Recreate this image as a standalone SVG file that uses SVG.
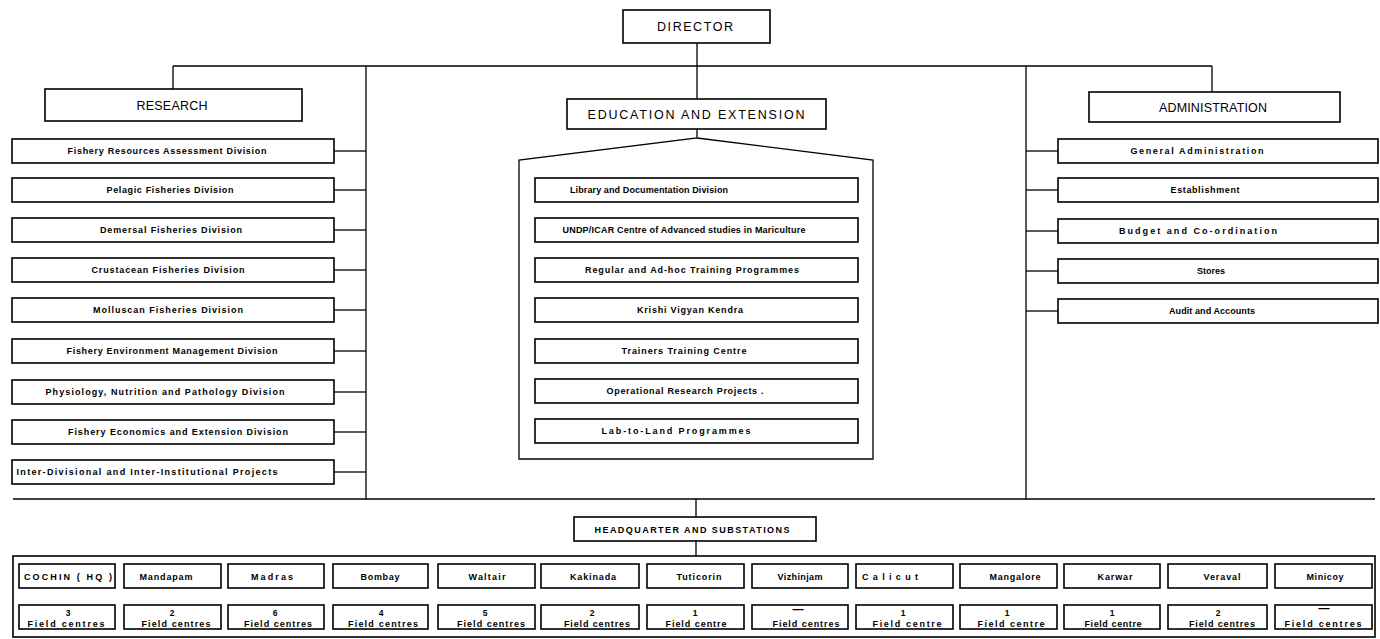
<svg xmlns="http://www.w3.org/2000/svg" width="1380" height="639" viewBox="0 0 1380 639">
<style>
.bg{fill:#fff}
.box{fill:#fff;stroke:#000;stroke-width:1.6}
.ln{stroke:#000;stroke-width:1.3;fill:none}
.h{font-family:"Liberation Sans",Arial,sans-serif;font-size:12.5px;text-anchor:middle;fill:#000}
.s{font-family:"Liberation Sans",Arial,sans-serif;font-weight:bold;font-size:9px;text-anchor:middle;fill:#000}
.st{font-family:"Liberation Sans",Arial,sans-serif;font-weight:bold;font-size:9px;text-anchor:middle;fill:#000}
.n{font-family:"Liberation Sans",Arial,sans-serif;font-weight:bold;font-size:8.5px;text-anchor:middle;fill:#000}
.d{font-family:"Liberation Sans",Arial,sans-serif;font-weight:bold;font-size:11px;text-anchor:middle;fill:#000}
</style>
<rect class="bg" x="0" y="0" width="1380" height="639"/>

<g id="connectors">
<line class="ln" x1="697" y1="43" x2="697" y2="99"/>
<line class="ln" x1="173" y1="66" x2="1212" y2="66"/>
<line class="ln" x1="173" y1="66" x2="173" y2="89"/>
<line class="ln" x1="1212" y1="66" x2="1212" y2="92"/>
<line class="ln" x1="366" y1="66" x2="366" y2="499"/>
<line class="ln" x1="1026" y1="66" x2="1026" y2="499"/>
<line class="ln" x1="13" y1="499" x2="1375" y2="499"/>
<line class="ln" x1="696" y1="499" x2="696" y2="517"/>
<line class="ln" x1="696" y1="541" x2="696" y2="556"/>
<polyline class="ln" points="697,129 697,138 519,160 519,459 873,459 873,160 697,138"/>
<line class="ln" x1="334" y1="151" x2="366" y2="151"/>
<line class="ln" x1="334" y1="190" x2="366" y2="190"/>
<line class="ln" x1="334" y1="230" x2="366" y2="230"/>
<line class="ln" x1="334" y1="270" x2="366" y2="270"/>
<line class="ln" x1="334" y1="310" x2="366" y2="310"/>
<line class="ln" x1="334" y1="351" x2="366" y2="351"/>
<line class="ln" x1="334" y1="392" x2="366" y2="392"/>
<line class="ln" x1="334" y1="432" x2="366" y2="432"/>
<line class="ln" x1="334" y1="472" x2="366" y2="472"/>
<line class="ln" x1="1026" y1="151" x2="1058" y2="151"/>
<line class="ln" x1="1026" y1="190" x2="1058" y2="190"/>
<line class="ln" x1="1026" y1="231" x2="1058" y2="231"/>
<line class="ln" x1="1026" y1="271" x2="1058" y2="271"/>
<line class="ln" x1="1026" y1="311" x2="1058" y2="311"/>
<line class="ln" x1="67" y1="588" x2="67" y2="605"/>
<line class="ln" x1="172" y1="588" x2="172" y2="605"/>
<line class="ln" x1="276" y1="588" x2="276" y2="605"/>
<line class="ln" x1="381" y1="588" x2="381" y2="605"/>
<line class="ln" x1="486" y1="588" x2="486" y2="605"/>
<line class="ln" x1="590" y1="588" x2="590" y2="605"/>
<line class="ln" x1="695" y1="588" x2="695" y2="605"/>
<line class="ln" x1="800" y1="588" x2="800" y2="605"/>
<line class="ln" x1="904" y1="588" x2="904" y2="605"/>
<line class="ln" x1="1008" y1="588" x2="1008" y2="605"/>
<line class="ln" x1="1112" y1="588" x2="1112" y2="605"/>
<line class="ln" x1="1217" y1="588" x2="1217" y2="605"/>
<line class="ln" x1="1323" y1="588" x2="1323" y2="605"/>
</g>

<g id="director"><rect class="box" x="623" y="10" width="147" height="33"/><text class="h" x="695" y="31" textLength="76" lengthAdjust="spacing">DIRECTOR</text></g>

<g id="research"><rect class="box" x="45" y="89" width="257" height="32"/><text class="h" x="172" y="109.5" textLength="71" lengthAdjust="spacing">RESEARCH</text></g>
<g id="education"><rect class="box" x="567" y="99" width="259" height="30"/><text class="h" x="696" y="118.5" textLength="217" lengthAdjust="spacing">EDUCATION AND EXTENSION</text></g>
<g id="administration"><rect class="box" x="1089" y="92" width="251" height="30"/><text class="h" x="1213" y="111.5" textLength="108" lengthAdjust="spacing">ADMINISTRATION</text></g>

<g id="r1"><rect class="box" x="12" y="139" width="322" height="24"/><text class="s" x="167" y="154.2" textLength="199" lengthAdjust="spacing">Fishery Resources Assessment Division</text></g>
<g id="r2"><rect class="box" x="12" y="178" width="322" height="24"/><text class="s" x="170" y="193.2" textLength="127" lengthAdjust="spacing">Pelagic Fisheries Division</text></g>
<g id="r3"><rect class="box" x="12" y="218" width="322" height="24"/><text class="s" x="171" y="233.2" textLength="142" lengthAdjust="spacing">Demersal Fisheries Division</text></g>
<g id="r4"><rect class="box" x="12" y="258" width="322" height="24"/><text class="s" x="168" y="273.2" textLength="153" lengthAdjust="spacing">Crustacean Fisheries Division</text></g>
<g id="r5"><rect class="box" x="12" y="298" width="322" height="24"/><text class="s" x="168" y="313.2" textLength="150" lengthAdjust="spacing">Molluscan Fisheries Division</text></g>
<g id="r6"><rect class="box" x="12" y="339" width="322" height="24"/><text class="s" x="172" y="354.2" textLength="211" lengthAdjust="spacing">Fishery Environment Management Division</text></g>
<g id="r7"><rect class="box" x="12" y="380" width="322" height="24"/><text class="s" x="165" y="395.2" textLength="239" lengthAdjust="spacing">Physiology, Nutrition and Pathology Division</text></g>
<g id="r8"><rect class="box" x="12" y="420" width="322" height="24"/><text class="s" x="178" y="435.2" textLength="220" lengthAdjust="spacing">Fishery Economics and Extension Division</text></g>
<g id="r9"><rect class="box" x="12" y="460" width="322" height="24"/><text class="s" x="147" y="475.2" textLength="261" lengthAdjust="spacing">Inter-Divisional and Inter-Institutional Projects</text></g>

<g id="e1"><rect class="box" x="535" y="178" width="323" height="24"/><text class="s" x="649" y="193.2" textLength="158" lengthAdjust="spacing">Library and Documentation Division</text></g>
<g id="e2"><rect class="box" x="535" y="218" width="323" height="24"/><text class="s" x="684" y="233.2" textLength="243" lengthAdjust="spacing">UNDP/ICAR Centre of Advanced studies in Mariculture</text></g>
<g id="e3"><rect class="box" x="535" y="258" width="323" height="24"/><text class="s" x="692" y="273.2" textLength="214" lengthAdjust="spacing">Regular and Ad-hoc Training Programmes</text></g>
<g id="e4"><rect class="box" x="535" y="298" width="323" height="24"/><text class="s" x="690" y="313.2" textLength="106" lengthAdjust="spacing">Krishi Vigyan Kendra</text></g>
<g id="e5"><rect class="box" x="535" y="339" width="323" height="24"/><text class="s" x="684" y="354.2" textLength="125" lengthAdjust="spacing">Trainers Training Centre</text></g>
<g id="e6"><rect class="box" x="535" y="379" width="323" height="24"/><text class="s" x="685" y="394.2" textLength="157" lengthAdjust="spacing">Operational Research Projects .</text></g>
<g id="e7"><rect class="box" x="535" y="419" width="323" height="24"/><text class="s" x="676" y="434.2" textLength="149" lengthAdjust="spacing">Lab-to-Land Programmes</text></g>

<g id="a1"><rect class="box" x="1058" y="139" width="320" height="24"/><text class="s" x="1197" y="154.2" textLength="133" lengthAdjust="spacing">General Administration</text></g>
<g id="a2"><rect class="box" x="1058" y="178" width="320" height="24"/><text class="s" x="1205" y="193.2" textLength="69" lengthAdjust="spacing">Establishment</text></g>
<g id="a3"><rect class="box" x="1058" y="219" width="320" height="24"/><text class="s" x="1198" y="234.2" textLength="158" lengthAdjust="spacing">Budget and Co-ordination</text></g>
<g id="a4"><rect class="box" x="1058" y="259" width="320" height="24"/><text class="s" x="1211" y="274.2" textLength="28" lengthAdjust="spacing">Stores</text></g>
<g id="a5"><rect class="box" x="1058" y="299" width="320" height="24"/><text class="s" x="1212" y="314.2" textLength="86" lengthAdjust="spacing">Audit and Accounts</text></g>

<g id="hq"><rect class="box" x="574" y="517" width="242" height="24"/><text class="s" x="692" y="532.5" textLength="195" lengthAdjust="spacing">HEADQUARTER AND SUBSTATIONS</text></g>

<g id="stations">
<rect class="box" x="13" y="556" width="1362" height="81"/>
</g>

<g id="s1"><rect class="box" x="19" y="564" width="96" height="24"/><text class="st" x="68" y="580" textLength="88" lengthAdjust="spacing">COCHIN ( HQ )</text>
<rect class="box" x="19" y="605" width="96" height="24"/><text class="n" x="68" y="616">3</text><text class="st" x="66" y="626.5" textLength="77" lengthAdjust="spacing">Field centres</text></g>
<g id="s2"><rect class="box" x="124" y="564" width="97" height="24"/><text class="st" x="166" y="580" textLength="53" lengthAdjust="spacing">Mandapam</text>
<rect class="box" x="124" y="605" width="97" height="24"/><text class="n" x="172" y="616">2</text><text class="st" x="176" y="626.5" textLength="69" lengthAdjust="spacing">Field centres</text></g>
<g id="s3"><rect class="box" x="228" y="564" width="96" height="24"/><text class="st" x="272" y="580" textLength="42" lengthAdjust="spacing">Madras</text>
<rect class="box" x="228" y="605" width="96" height="24"/><text class="n" x="275" y="616">6</text><text class="st" x="278" y="626.5" textLength="68" lengthAdjust="spacing">Field centres</text></g>
<g id="s4"><rect class="box" x="333" y="564" width="95" height="24"/><text class="st" x="380" y="580" textLength="39" lengthAdjust="spacing">Bombay</text>
<rect class="box" x="333" y="605" width="95" height="24"/><text class="n" x="381" y="616">4</text><text class="st" x="383" y="626.5" textLength="70" lengthAdjust="spacing">Field centres</text></g>
<g id="s5"><rect class="box" x="438" y="564" width="97" height="24"/><text class="st" x="487" y="580" textLength="37" lengthAdjust="spacing">Waltair</text>
<rect class="box" x="438" y="605" width="97" height="24"/><text class="n" x="485" y="616">5</text><text class="st" x="491" y="626.5" textLength="68" lengthAdjust="spacing">Field centres</text></g>
<g id="s6"><rect class="box" x="541" y="564" width="98" height="24"/><text class="st" x="593" y="580" textLength="46" lengthAdjust="spacing">Kakinada</text>
<rect class="box" x="541" y="605" width="98" height="24"/><text class="n" x="592" y="616">2</text><text class="st" x="597" y="626.5" textLength="66" lengthAdjust="spacing">Field centres</text></g>
<g id="s7"><rect class="box" x="647" y="564" width="97" height="24"/><text class="st" x="699" y="580" textLength="45" lengthAdjust="spacing">Tuticorin</text>
<rect class="box" x="647" y="605" width="97" height="24"/><text class="n" x="695" y="616">1</text><text class="st" x="696" y="626.5" textLength="61" lengthAdjust="spacing">Field centre</text></g>
<g id="s8"><rect class="box" x="752" y="564" width="96" height="24"/><text class="st" x="800" y="580" textLength="45" lengthAdjust="spacing">Vizhinjam</text>
<rect class="box" x="752" y="605" width="96" height="24"/><text class="d" x="798" y="612.5">—</text><text class="st" x="806" y="626.5" textLength="67" lengthAdjust="spacing">Field centres</text></g>
<g id="s9"><rect class="box" x="856" y="564" width="97" height="24"/><text class="st" x="890" y="580" textLength="56" lengthAdjust="spacing">Calicut</text>
<rect class="box" x="856" y="605" width="97" height="24"/><text class="n" x="903" y="616">1</text><text class="st" x="907" y="626.5" textLength="69" lengthAdjust="spacing">Field centre</text></g>
<g id="s10"><rect class="box" x="960" y="564" width="97" height="24"/><text class="st" x="1015" y="580" textLength="51" lengthAdjust="spacing">Mangalore</text>
<rect class="box" x="960" y="605" width="97" height="24"/><text class="n" x="1007" y="616">1</text><text class="st" x="1011" y="626.5" textLength="67" lengthAdjust="spacing">Field centre</text></g>
<g id="s11"><rect class="box" x="1064" y="564" width="96" height="24"/><text class="st" x="1115" y="580" textLength="35" lengthAdjust="spacing">Karwar</text>
<rect class="box" x="1064" y="605" width="96" height="24"/><text class="n" x="1112" y="616">1</text><text class="st" x="1113" y="626.5" textLength="57" lengthAdjust="spacing">Field centre</text></g>
<g id="s12"><rect class="box" x="1168" y="564" width="99" height="24"/><text class="st" x="1222" y="580" textLength="37" lengthAdjust="spacing">Veraval</text>
<rect class="box" x="1168" y="605" width="99" height="24"/><text class="n" x="1218" y="616">2</text><text class="st" x="1222" y="626.5" textLength="66" lengthAdjust="spacing">Field centres</text></g>
<g id="s13"><rect class="box" x="1275" y="564" width="97" height="24"/><text class="st" x="1325" y="580" textLength="37" lengthAdjust="spacing">Minicoy</text>
<rect class="box" x="1275" y="605" width="97" height="24"/><text class="d" x="1324" y="612">—</text><text class="st" x="1323" y="626.5" textLength="77" lengthAdjust="spacing">Field centres</text></g>
</svg>
